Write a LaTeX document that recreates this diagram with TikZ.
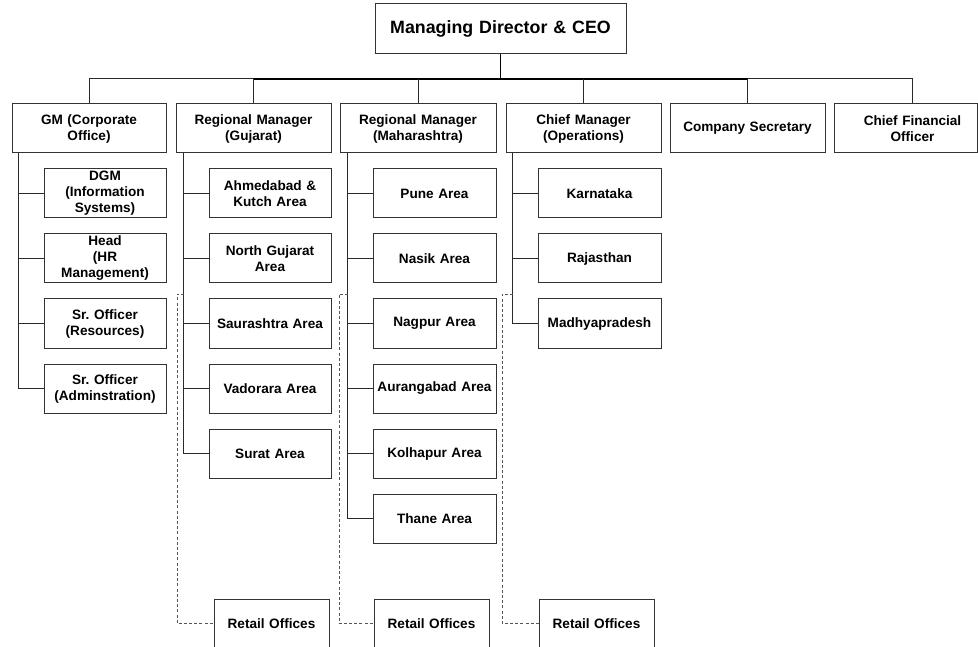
\documentclass[tikz,border=0pt]{standalone}
\usepackage{fontspec}
\setmainfont{Liberation Sans}
\definecolor{boxc}{HTML}{333333}
\definecolor{linec}{HTML}{2A2A2A}
\definecolor{dashc}{HTML}{555555}
\frenchspacing
\begin{document}
\begin{tikzpicture}[x=1pt,y=-1pt,
  conn/.style={draw=linec, line width=1pt},
  busthick/.style={draw=black, line width=1.8pt},
  dotted link/.style={draw=dashc, line width=0.9pt, dash pattern=on 3pt off 2.2pt},
  box/.style={draw=boxc, line width=1pt, fill=white, inner sep=0pt, align=center,
    minimum height=49pt, font=\fontsize{13.6}{16}\selectfont\bfseries},
  topbox/.style={box, minimum height=50pt, font=\fontsize{17.8}{20}\selectfont\bfseries},
  lvtwo/.style={box, text width=155pt},
  lvthree/.style={box, text width=122pt},
  retail/.style={box, text width=115pt}
]
\useasboundingbox (0,0) rectangle (978,647);

% top
\node[topbox, text width=251pt] (ceo) at (500.5,29) {Managing Director \& CEO};

% second level
\node[lvtwo, text width=154pt] (gm)  at (89,128.5)    {GM (Corporate\\Office)};
\node[lvtwo] (rmg) at (253.5,128.5) {Regional Manager\\(Gujarat)};
\node[lvtwo, text width=156pt] (rmm) at (418,128.5) {Regional Manager\\(Maharashtra)};
\node[lvtwo] (cm)  at (583.5,128.5) {Chief Manager\\(Operations)};
\node[lvtwo] (cs)  at (747.5,128.5) {Company Secretary};
\node[lvtwo, draw=none, fill=none] (cfo) at (912.5,128.5) {Chief Financial\\Officer};
\draw[draw=boxc, line width=1pt] (cfo.north west) rectangle (977,152.5);

% bus from the CEO to the second level
\coordinate (bus) at (500.5,79);
\draw[busthick] (ceo.south) -- (bus);
\draw[conn] (gm.north) |- (rmg.north |- bus);
\draw[conn] (cs.north |- bus) -| (cfo.north);
\draw[busthick] (rmg.north |- bus) -- (cs.north |- bus);
\draw[conn] (rmg.north) -- (rmg.north |- bus);
\draw[conn] (rmm.north) -- (rmm.north |- bus);
\draw[conn] (cm.north) -- (cm.north |- bus);
\draw[conn] (cs.north) -- (cs.north |- bus);

% GM (Corporate Office) staff
\node[lvthree] (gm1) at (105,193.5) {DGM\\(Information\\Systems)};
\node[lvthree] (gm2) at (105,258.5) {Head\\(HR\\Management)};
\node[lvthree] (gm3) at (105,323.5) {Sr. Officer\\(Resources)};
\node[lvthree] (gm4) at (105,388.5) {Sr. Officer\\(Adminstration)};
\coordinate (gmt) at ([xshift=7pt]gm.south west);
\draw[conn] (gmt) |- (gm4.west);
\foreach \c in {gm1,gm2,gm3} \draw[conn] (\c.west) -- (\c.west -| gmt);

% Gujarat areas
\node[lvthree] (g1) at (270,193.5) {Ahmedabad \&\\Kutch Area};
\node[lvthree] (g2) at (270,258.5) {North Gujarat\\Area};
\node[lvthree] (g3) at (270,323.5) {Saurashtra Area};
\node[lvthree] (g4) at (270,388.5) {Vadorara Area};
\node[lvthree] (g5) at (270,453.5) {Surat Area};
\coordinate (gt) at ([xshift=8pt]rmg.south west);
\draw[conn] (gt) |- (g5.west);
\foreach \c in {g1,g2,g3,g4} \draw[conn] (\c.west) -- (\c.west -| gt);

% Maharashtra areas
\node[lvthree, text width=123pt] (m1) at (434.5,193.5) {Pune Area};
\node[lvthree, text width=123pt] (m2) at (434.5,258.5) {Nasik Area};
\node[lvthree, text width=123pt] (m3) at (434.5,323.5) {Nagpur Area};
\node[lvthree, text width=123pt] (m4) at (434.5,388.5) {Aurangabad Area};
\node[lvthree, text width=123pt] (m5) at (434.5,453.5) {Kolhapur Area};
\node[lvthree, text width=123pt] (m6) at (434.5,518.5) {Thane Area};
\coordinate (mt) at ([xshift=8pt]rmm.south west);
\draw[conn] (mt) |- (m6.west);
\foreach \c in {m1,m2,m3,m4,m5} \draw[conn] (\c.west) -- (\c.west -| mt);

% Operations states
\node[lvthree, text width=123pt] (o1) at (599.5,193.5) {Karnataka};
\node[lvthree, text width=123pt] (o2) at (599.5,258.5) {Rajasthan};
\node[lvthree, text width=123pt] (o3) at (599.5,323.5) {Madhyapradesh};
\coordinate (ot) at ([xshift=7pt]cm.south west);
\draw[conn] (ot) |- (o3.west);
\foreach \c in {o1,o2} \draw[conn] (\c.west) -- (\c.west -| ot);

% retail offices with dotted reporting lines
\node[retail] (r1) at (271.5,623.5) {Retail Offices};
\node[retail] (r2) at (431.5,623.5) {Retail Offices};
\node[retail] (r3) at (596.5,623.5) {Retail Offices};
\coordinate (d1) at (184,294);
\coordinate (d2) at (348,294);
\coordinate (d3) at (513,294);
\draw[dotted link] (d1) -- ++(-7,0) |- (r1.west);
\draw[dotted link] (d2) -- ++(-9,0) |- (r2.west);
\draw[dotted link] (d3) -- ++(-11,0) |- (r3.west);
\end{tikzpicture}
\end{document}
